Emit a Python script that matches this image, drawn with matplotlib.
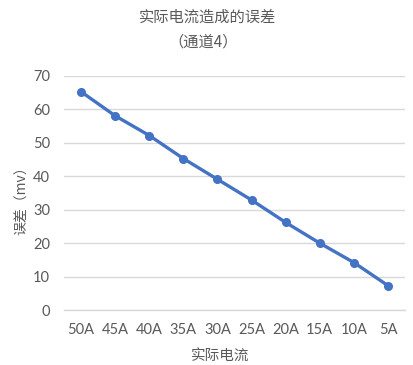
import matplotlib
matplotlib.use("Agg")
import matplotlib.pyplot as plt
from matplotlib import font_manager

plt.rcParams['font.family'] = ['Noto Sans CJK SC', 'DejaVu Sans']

categories = ["50A", "45A", "40A", "35A", "30A", "25A", "20A", "15A", "10A", "5A"]
errors_mv = [65.3, 58.1, 52.2, 45.3, 39.1, 32.9, 26.2, 20.0, 14.2, 7.3]
y_ticks = [0, 10, 20, 30, 40, 50, 60, 70]

text_gray = "#595959"
grid_gray = "#d9d9d9"
line_blue = "#4472C4"

installed = {f.name for f in font_manager.fontManager.ttflist}
tick_family = [f for f in ["Liberation Sans Narrow", "Lato", "DejaVu Sans"] if f in installed]

fig = plt.figure(figsize=(4.14, 3.65), dpi=100)
W, H = 414, 365
ax = fig.add_axes([64 / W, 1 - 310 / H, (405 - 64) / W, (310 - 76) / H])

x = list(range(len(categories)))
ax.plot(x, errors_mv, color=line_blue, linewidth=2.4, marker="o",
        markersize=5.5, solid_capstyle="round", zorder=3)

ax.set_xlim(-0.5, len(categories) - 0.5)
ax.set_ylim(0, 70)
ax.set_yticks(y_ticks)
ax.set_xticks(x)
ax.set_xticklabels(categories)
ax.yaxis.grid(True, color=grid_gray, linewidth=1.0)
ax.set_axisbelow(True)
for s in ["top", "right", "left"]:
    ax.spines[s].set_visible(False)
ax.spines["bottom"].set_color(grid_gray)
ax.spines["bottom"].set_linewidth(1.0)
ax.tick_params(axis="both", length=0, colors=text_gray, labelsize=10.5)
ax.tick_params(axis="y", pad=10)
ax.tick_params(axis="x", pad=9)
for lbl in ax.get_xticklabels() + ax.get_yticklabels():
    lbl.set_family(tick_family)

# axis titles
fig.text(220 / W, 1 - 356 / H, "实际电流", ha="center", va="center",
         color=text_gray, fontsize=10.5)
fig.text(22 / W, 1 - 197 / H, "误差（mv）", ha="center", va="center",
         color=text_gray, fontsize=10, rotation=90)

# chart title
fig.text(207.5 / W, 1 - 17 / H, "实际电流造成的误差", ha="center", va="center",
         color=text_gray, fontsize=11)
fig.text(203 / W, 1 - 42 / H, "（通道4）", ha="center", va="center",
         color=text_gray, fontsize=11)

fig.savefig("out.png", dpi=100)
